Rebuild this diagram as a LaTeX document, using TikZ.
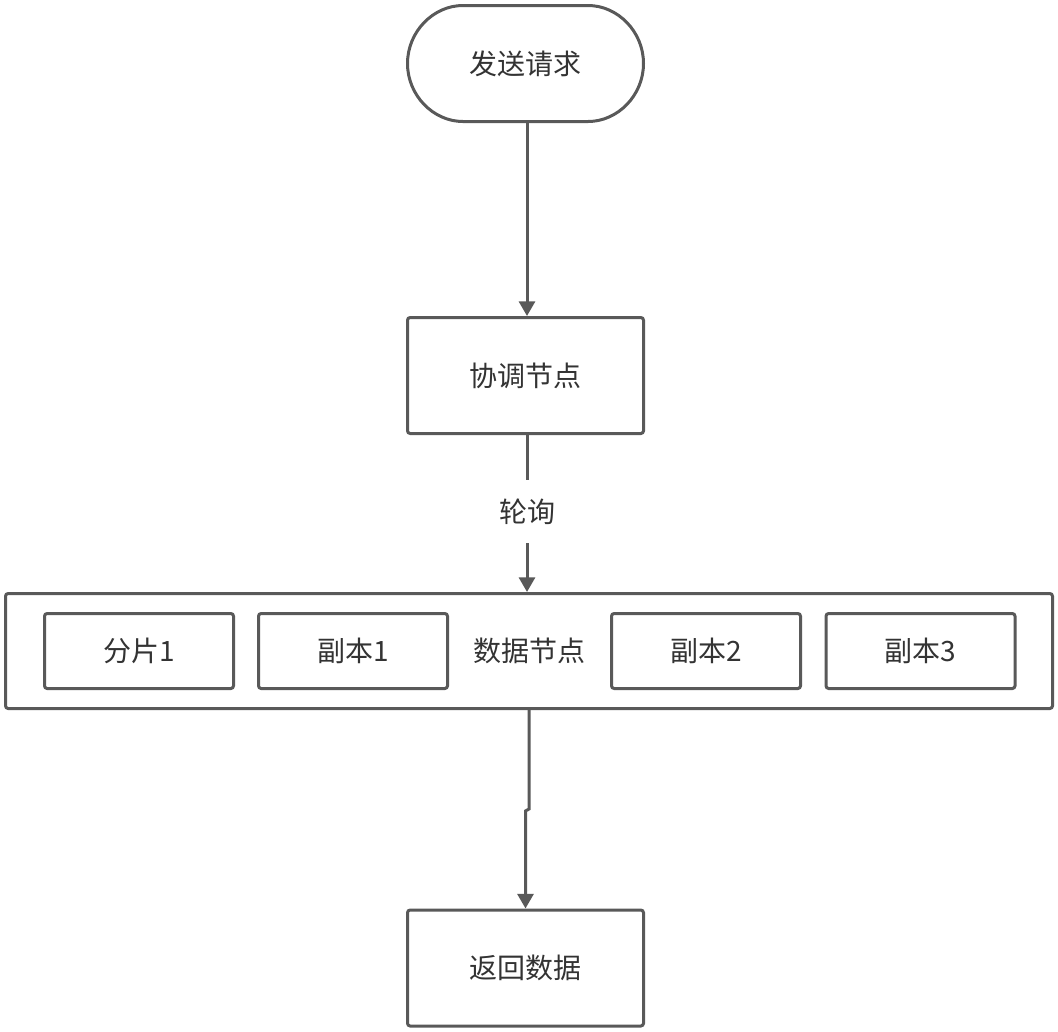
\documentclass[tikz,border=0pt]{standalone}
\usepackage{fontspec}
\newfontfamily\cjk{Noto Sans CJK SC}
\usetikzlibrary{arrows.meta,shapes.misc}
\definecolor{edgegray}{HTML}{595959}
\definecolor{textgray}{HTML}{333333}

\begin{document}
\begin{tikzpicture}[x=0.75pt,y=-0.75pt,
		box/.style={draw=edgegray, line width=2.25pt, rounded corners=2pt, fill=white,
			text=textgray, font=\cjk\fontsize{21}{25}\selectfont,
			minimum width=177pt, minimum height=87pt, inner sep=0pt},
		terminal/.style={box, rounded rectangle},
		smallbox/.style={box, minimum width=141.75pt, minimum height=56.25pt},
		arr/.style={draw=edgegray, line width=2.25pt, -{Triangle[width=12pt,length=11pt]}},
		link/.style={draw=edgegray, line width=2.25pt}]
			\useasboundingbox (0,0) rectangle (1058,1032);
			\node[terminal] (start) at (525.5,63.5) {发送请求};
			\node[box] (coord) at (525.5,375.5) {协调节点};
			\node[box, minimum width=785.25pt, minimum height=86.25pt] (data) at (529,651) {数据节点};
			\node[smallbox] (shard1) at (139,651) {分片1};
			\node[smallbox] (rep1) at (353,651) {副本1};
			\node[smallbox] (rep2) at (706,651) {副本2};
			\node[smallbox] (rep3) at (920.5,651) {副本3};
			\node[box] (result) at (525.5,968) {返回数据};
			\node[text=textgray, font=\cjk\fontsize{21}{25}\selectfont, minimum height=47pt, inner sep=0pt] (poll) at (527,511.5) {轮询};
			\coordinate (jog) at (525.5,811);
			\draw[arr] (start.south -| 527,0) -- (coord.north -| 527,0);
			\draw[link] (poll.north |- coord.south) -- (poll.north);
			\draw[arr] (poll.south) -- (poll.south |- data.north);
			\draw[arr] (data.south) -- (data.south |- 0,809) -- (jog) -- (result.north);
		\end{tikzpicture}
\end{document}
